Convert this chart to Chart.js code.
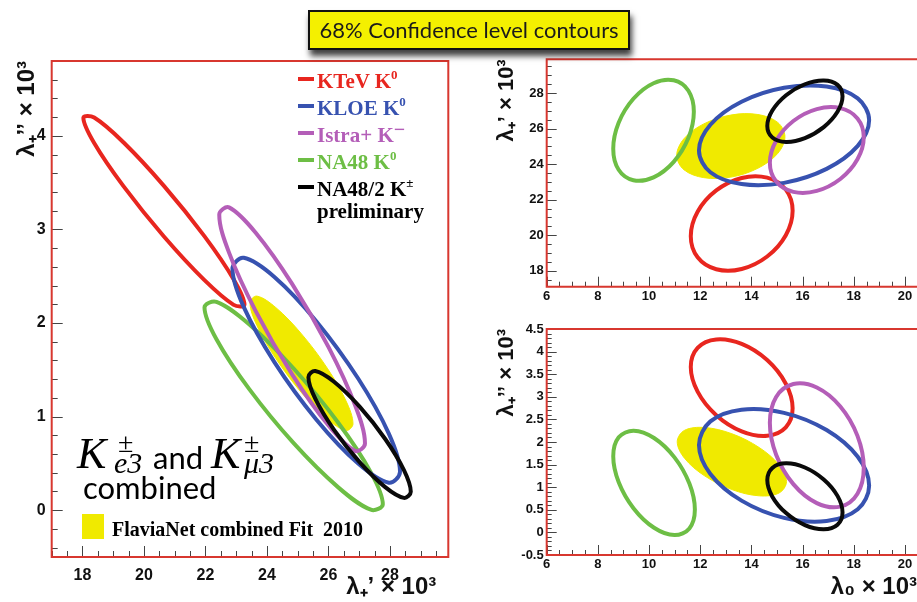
<!DOCTYPE html>
<html>
<head>
<meta charset="utf-8">
<script src="https://cdn.jsdelivr.net/npm/chart.js@4.4.1/dist/chart.umd.min.js"></script>
<style>
  html, body { margin: 0; padding: 0; background: #fff; }
  body { width: 917px; height: 602px; overflow: hidden; position: relative; }
  canvas { position: absolute; }
  .p { position: absolute; line-height: 1; white-space: nowrap; }
  #titlebox {
    position: absolute; left: 308px; top: 10px; width: 322px; height: 40px; box-sizing: border-box;
    background: #f4f000; border: 2px solid #111; box-shadow: 2px 6px 6px rgba(0,0,0,0.75);
    font: 22px Lato, sans-serif; color: #1a1a1a; text-align: center; line-height: 36px; z-index: 5;
  }
  #legend { position: absolute; left: 298px; top: 68.4px; font: bold 21px "Liberation Serif", serif; line-height: 27px; white-space: nowrap; }
  #legend .dash { display: inline-block; width: 16px; height: 4px; background: currentColor; vertical-align: 7px; margin-right: 3px; }
  #legend sup { font-size: 13px; vertical-align: 9px; line-height: 0; }
  .mathK { font: italic 44px "Liberation Serif", serif; }
  .pm { font: 28px "Liberation Serif", serif; }
  .sub { font: italic 30px "Liberation Serif", serif; }
  .gill { font: 31px Lato, sans-serif; }
</style>
</head>
<body>
<canvas id="panelA" width="460" height="602" style="left:0;top:0"></canvas>
<canvas id="panelB" width="447" height="310" style="left:470px;top:0"></canvas>
<canvas id="panelC" width="447" height="292" style="left:470px;top:310px"></canvas>

<div id="titlebox">68% Confidence level contours</div>

<div id="legend">
  <div style="color:#e8261f"><span class="dash"></span>KTeV K<sup>0</sup></div>
  <div style="color:#3752b0"><span class="dash"></span>KLOE K<sup>0</sup></div>
  <div style="color:#b45eb8"><span class="dash"></span>Istra+ K<sup style="font-size:20px;vertical-align:6px">−</sup></div>
  <div style="color:#6dbe45"><span class="dash"></span>NA48 K<sup>0</sup></div>
  <div style="color:#000"><span class="dash"></span>NA48/2 K<sup>±</sup></div>
  <div style="color:#000;padding-left:19px;line-height:16px">preliminary</div>
</div>

<span class="p mathK" style="left:77px;top:428px">K</span>
<span class="p pm" style="left:118px;top:426.5px">±</span>
<span class="p sub" style="left:114px;top:446px">e3</span>
<span class="p gill" style="left:153px;top:437.5px">and</span>
<span class="p mathK" style="left:211px;top:428px">K</span>
<span class="p pm" style="left:244px;top:426.5px">±</span>
<span class="p sub" style="left:244px;top:446px">μ3</span>
<span class="p gill" style="left:83px;top:467.5px">combined</span>

<div style="position:absolute;left:82px;top:514px;width:22px;height:25px;background:#f0ea00"></div>
<span class="p" style="left:112px;top:518.3px;font:bold 20px 'Liberation Serif', serif">FlaviaNet combined Fit&nbsp; 2010</span>

<script>
// contour outlines, [x, y] pairs going round each contour
// panel A: x = lambda+' x 1e3, y = lambda+'' x 1e3
const ktevA = [[23.27,2.196],[22.919,2.466],[21.96,2.931],[20.65,3.466],[19.34,3.929],[18.381,4.196],[18.03,4.194],[18.381,3.924],[19.34,3.46],[20.65,2.924],[21.96,2.461],[22.919,2.194]];
const kloeA = [[28.33,0.411],[27.965,0.818],[26.968,1.407],[25.605,2.02],[24.243,2.492],[23.245,2.697],[22.88,2.58],[23.245,2.172],[24.243,1.582],[25.605,0.97],[26.968,0.498],[27.965,0.294]];
const istraA = [[27.19,0.712],[26.872,1.118],[26.005,1.742],[24.82,2.418],[23.635,2.965],[22.768,3.236],[22.45,3.158],[22.768,2.752],[23.635,2.128],[24.82,1.452],[26.005,0.905],[26.872,0.634]];
const na48A = [[27.77,0.063],[27.381,0.404],[26.32,0.935],[24.87,1.514],[23.42,1.987],[22.359,2.226],[21.97,2.167],[22.359,1.827],[23.42,1.296],[24.87,0.716],[26.32,0.244],[27.381,0.005]];
const na48cA = [[28.68,0.198],[28.457,0.428],[27.848,0.761],[27.015,1.107],[26.183,1.373],[25.573,1.488],[25.35,1.422],[25.573,1.192],[26.183,0.859],[27.015,0.514],[27.848,0.247],[28.457,0.132]];
const flaviaA = [[26.80,0.922],[26.576,1.166],[25.963,1.518],[25.125,1.884],[24.288,2.166],[23.674,2.288],[23.45,2.218],[23.674,1.974],[24.288,1.622],[25.125,1.256],[25.963,0.974],[26.576,0.852]];

// panel B: x = lambda0 x 1e3, y = lambda+' x 1e3
const ktevB = [[15.61,21.378],[15.343,22.563],[14.615,23.237],[13.62,23.222],[12.625,22.519],[11.897,21.319],[11.63,19.942],[11.897,18.757],[12.625,18.083],[13.62,18.098],[14.615,18.801],[15.343,20.001]];
const kloeB = [[18.60,26.477],[18.155,27.70],[16.938,28.365],[15.275,28.295],[13.613,27.508],[12.396,26.215],[11.95,24.763],[12.396,23.54],[13.613,22.875],[15.275,22.945],[16.938,23.732],[18.155,25.025]];
const istraB = [[18.39,25.52],[18.144,26.574],[17.473,27.153],[16.555,27.099],[15.638,26.428],[14.966,25.32],[14.72,24.071],[14.966,23.016],[15.638,22.438],[16.555,22.491],[17.473,23.162],[18.144,24.27]];
const na48B = [[11.75,26.943],[11.539,28.129],[10.963,28.718],[10.175,28.554],[9.388,27.68],[8.811,26.33],[8.60,24.867],[8.811,23.681],[9.388,23.092],[10.175,23.256],[10.963,24.13],[11.539,25.48]];
const na48cB = [[17.56,27.816],[17.363,28.461],[16.825,28.71],[16.09,28.496],[15.355,27.875],[14.817,27.014],[14.62,26.144],[14.817,25.499],[15.355,25.25],[16.09,25.465],[16.825,26.085],[17.363,26.946]];
const flaviaB = [[15.31,25.544],[15.027,26.347],[14.253,26.792],[13.195,26.762],[12.138,26.263],[11.363,25.43],[11.08,24.486],[11.363,23.683],[12.138,23.238],[13.195,23.268],[14.253,23.767],[15.027,24.60]];

// panel C: x = lambda0 x 1e3, y = lambda+'' x 1e3
const ktevC = [[15.61,2.746],[15.343,3.29],[14.615,3.812],[13.62,4.169],[12.625,4.268],[11.897,4.081],[11.63,3.659],[11.897,3.115],[12.625,2.594],[13.62,2.236],[14.615,2.137],[15.343,2.324]];
const kloeC = [[18.60,1.032],[18.155,1.673],[16.938,2.264],[15.275,2.645],[13.613,2.715],[12.396,2.456],[11.95,1.935],[12.396,1.294],[13.613,0.703],[15.275,0.322],[16.938,0.252],[18.155,0.511]];
const istraC = [[18.39,1.43],[18.144,2.136],[17.473,2.786],[16.555,3.206],[15.638,3.283],[14.966,2.997],[14.72,2.424],[14.966,1.718],[15.638,1.068],[16.555,0.648],[17.473,0.571],[18.144,0.857]];
const na48C = [[11.79,0.505],[11.576,1.08],[10.993,1.66],[10.195,2.088],[9.398,2.25],[8.814,2.103],[8.60,1.685],[8.814,1.11],[9.398,0.53],[10.195,0.102],[10.993,-0.06],[11.576,0.088]];
const na48cC = [[17.56,0.441],[17.363,0.808],[16.825,1.171],[16.09,1.436],[15.355,1.529],[14.817,1.427],[14.62,1.157],[14.817,0.791],[15.355,0.427],[16.09,0.162],[16.825,0.069],[17.363,0.171]];
const flaviaC = [[15.37,1.122],[15.084,1.49],[14.303,1.878],[13.235,2.183],[12.168,2.321],[11.386,2.258],[11.10,2.008],[11.386,1.64],[12.168,1.252],[13.235,0.948],[14.303,0.809],[15.084,0.873]];

const xTicksA = [18, 20, 22, 24, 26, 28];
const yTicksA = [0, 1, 2, 3, 4];
const xTicksBC = [6, 8, 10, 12, 14, 16, 18, 20];
const yTicksB = [18, 20, 22, 24, 26, 28];
const yTicksC = [-0.5, 0, 0.5, 1, 1.5, 2, 2.5, 3, 3.5, 4, 4.5];

const RED = '#e8261f', BLUE = '#3752b0', PURPLE = '#b45eb8', GREEN = '#6dbe45', BLACK = '#0a0a0a', YELLOW = '#f0ea00';

const ring = (pts, color) => ({
  data: pts.map(([x, y]) => ({x, y})),
  borderColor: color, borderWidth: 4, pointRadius: 0, tension: 0.35, fill: false
});
const blob = (pts, color) => ({
  data: pts.map(([x, y]) => ({x, y})),
  borderColor: color, backgroundColor: color, borderWidth: 1, pointRadius: 0, tension: 0.35, fill: 'shape'
});

// make every line a closed smooth loop
const closeLoops = {
  id: 'closeLoops',
  afterDatasetsUpdate(chart) {
    chart.data.datasets.forEach((ds, i) => {
      const line = chart.getDatasetMeta(i).dataset;
      if (line) { line._loop = true; line._fullLoop = true; }
    });
  }
};

// ROOT-style frame with inward ticks
const frame = (o) => ({
  id: 'frame',
  afterDraw(chart) {
    const {ctx, chartArea: a, scales: {x, y}} = chart;
    ctx.save();
    ctx.strokeStyle = '#444';
    ctx.lineWidth = 1;
    const isMajor = (v, m) => Math.abs(v / m - Math.round(v / m)) < 1e-6;
    for (let i = Math.ceil(x.min / o.xMinor); i * o.xMinor <= x.max + 1e-9; i++) {
      const v = i * o.xMinor, px = Math.round(x.getPixelForValue(v)) + 0.5;
      const len = isMajor(v, o.xMajor) ? o.major : o.minor;
      ctx.beginPath(); ctx.moveTo(px, a.bottom); ctx.lineTo(px, a.bottom - len); ctx.stroke();
    }
    for (let i = Math.ceil(y.min / o.yMinor); i * o.yMinor <= y.max + 1e-9; i++) {
      const v = i * o.yMinor, py = Math.round(y.getPixelForValue(v)) + 0.5;
      const len = isMajor(v, o.yMajor) ? o.major : o.minor;
      ctx.beginPath(); ctx.moveTo(a.left, py); ctx.lineTo(a.left + len, py); ctx.stroke();
    }
    ctx.strokeStyle = '#d8372f';
    ctx.lineWidth = 2;
    ctx.beginPath();
    if (o.closed) {
      ctx.rect(a.left, a.top, a.right - a.left, a.bottom - a.top);
    } else {
      ctx.moveTo(a.right + 2, a.top); ctx.lineTo(a.left, a.top);
      ctx.lineTo(a.left, a.bottom); ctx.lineTo(a.right + 2, a.bottom);
    }
    ctx.stroke();
    ctx.restore();
  }
});

function axis(c) {
  return {
    type: 'linear', min: c.min, max: c.max,
    afterBuildTicks: s => { s.ticks = c.ticks.map(v => ({value: v})); },
    afterFit: s => { if (c.width) s.width = c.width; if (c.height) s.height = c.height; },
    grid: {display: false, drawTicks: false},
    border: {display: false},
    ticks: {
      autoSkip: false, maxRotation: 0, color: '#111', padding: c.pad,
      callback: v => String(v),
      font: {family: c.narrow ? 'Liberation Sans Narrow, Liberation Sans' : 'Liberation Sans', size: c.fs, weight: 'bold'}
    },
    title: c.title ? {
      display: true, text: c.title, align: 'end', color: '#111',
      font: {family: 'Liberation Sans', size: c.tfs, weight: 'bold'},
      padding: {top: c.tpad || 0, bottom: 0}
    } : {display: false}
  };
}

function makeChart(id, datasets, opts) {
  return new Chart(document.getElementById(id), {
    type: 'line',
    data: {datasets},
    options: {
      responsive: false, animation: false,
      layout: {padding: opts.padding},
      plugins: {legend: {display: false}, tooltip: {enabled: false}},
      scales: {x: axis(opts.x), y: axis(opts.y)}
    },
    plugins: [closeLoops, frame(opts.frame)]
  });
}

makeChart('panelA', [
  ring(na48cA, BLACK), ring(istraA, PURPLE), ring(kloeA, BLUE), ring(ktevA, RED), ring(na48A, GREEN), blob(flaviaA, YELLOW)
], {
  padding: {left: 0, top: 61, right: 11.7, bottom: 0},
  x: {min: 17, max: 29.9, ticks: xTicksA, height: 45, fs: 16, pad: 9, title: 'λ₊’ × 10³\u2002', tfs: 24},
  y: {min: -0.5, max: 4.8, ticks: yTicksA, width: 51.7, fs: 16, pad: 6, title: 'λ₊’’ × 10³', tfs: 24, tpad: 12.6},
  frame: {xMajor: 2, xMinor: 0.5, yMajor: 1, yMinor: 0.2, major: 11, minor: 6, closed: true}
});

makeChart('panelB', [
  ring(na48cB, BLACK), ring(istraB, PURPLE), ring(kloeB, BLUE), ring(ktevB, RED), ring(na48B, GREEN), blob(flaviaB, YELLOW)
], {
  padding: {left: 0, top: 59.3, right: 0, bottom: 0},
  x: {min: 6, max: 20.47, ticks: xTicksBC, height: 23.3, fs: 13, pad: 2, narrow: true},
  y: {min: 17.1, max: 29.9, ticks: yTicksB, width: 76.7, fs: 13, pad: 3, narrow: true, title: 'λ₊’ × 10³', tfs: 22, tpad: 23.8},
  frame: {xMajor: 2, xMinor: 0.5, yMajor: 2, yMinor: 0.5, major: 10, minor: 5, closed: false}
});

makeChart('panelC', [
  ring(na48cC, BLACK), ring(istraC, PURPLE), ring(kloeC, BLUE), ring(ktevC, RED), ring(na48C, GREEN), blob(flaviaC, YELLOW)
], {
  padding: {left: 0, top: 19, right: 0, bottom: 0},
  x: {min: 6, max: 20.47, ticks: xTicksBC, height: 47, fs: 13, pad: 2, narrow: true, title: 'λ₀ × 10³', tfs: 24},
  y: {min: -0.5, max: 4.5, ticks: yTicksC, width: 76.7, fs: 13, pad: 3, narrow: true, title: 'λ₊’’ × 10³', tfs: 22, tpad: 23.8},
  frame: {xMajor: 2, xMinor: 0.5, yMajor: 0.5, yMinor: 0.1, major: 10, minor: 5, closed: false}
});
</script>
</body>
</html>
